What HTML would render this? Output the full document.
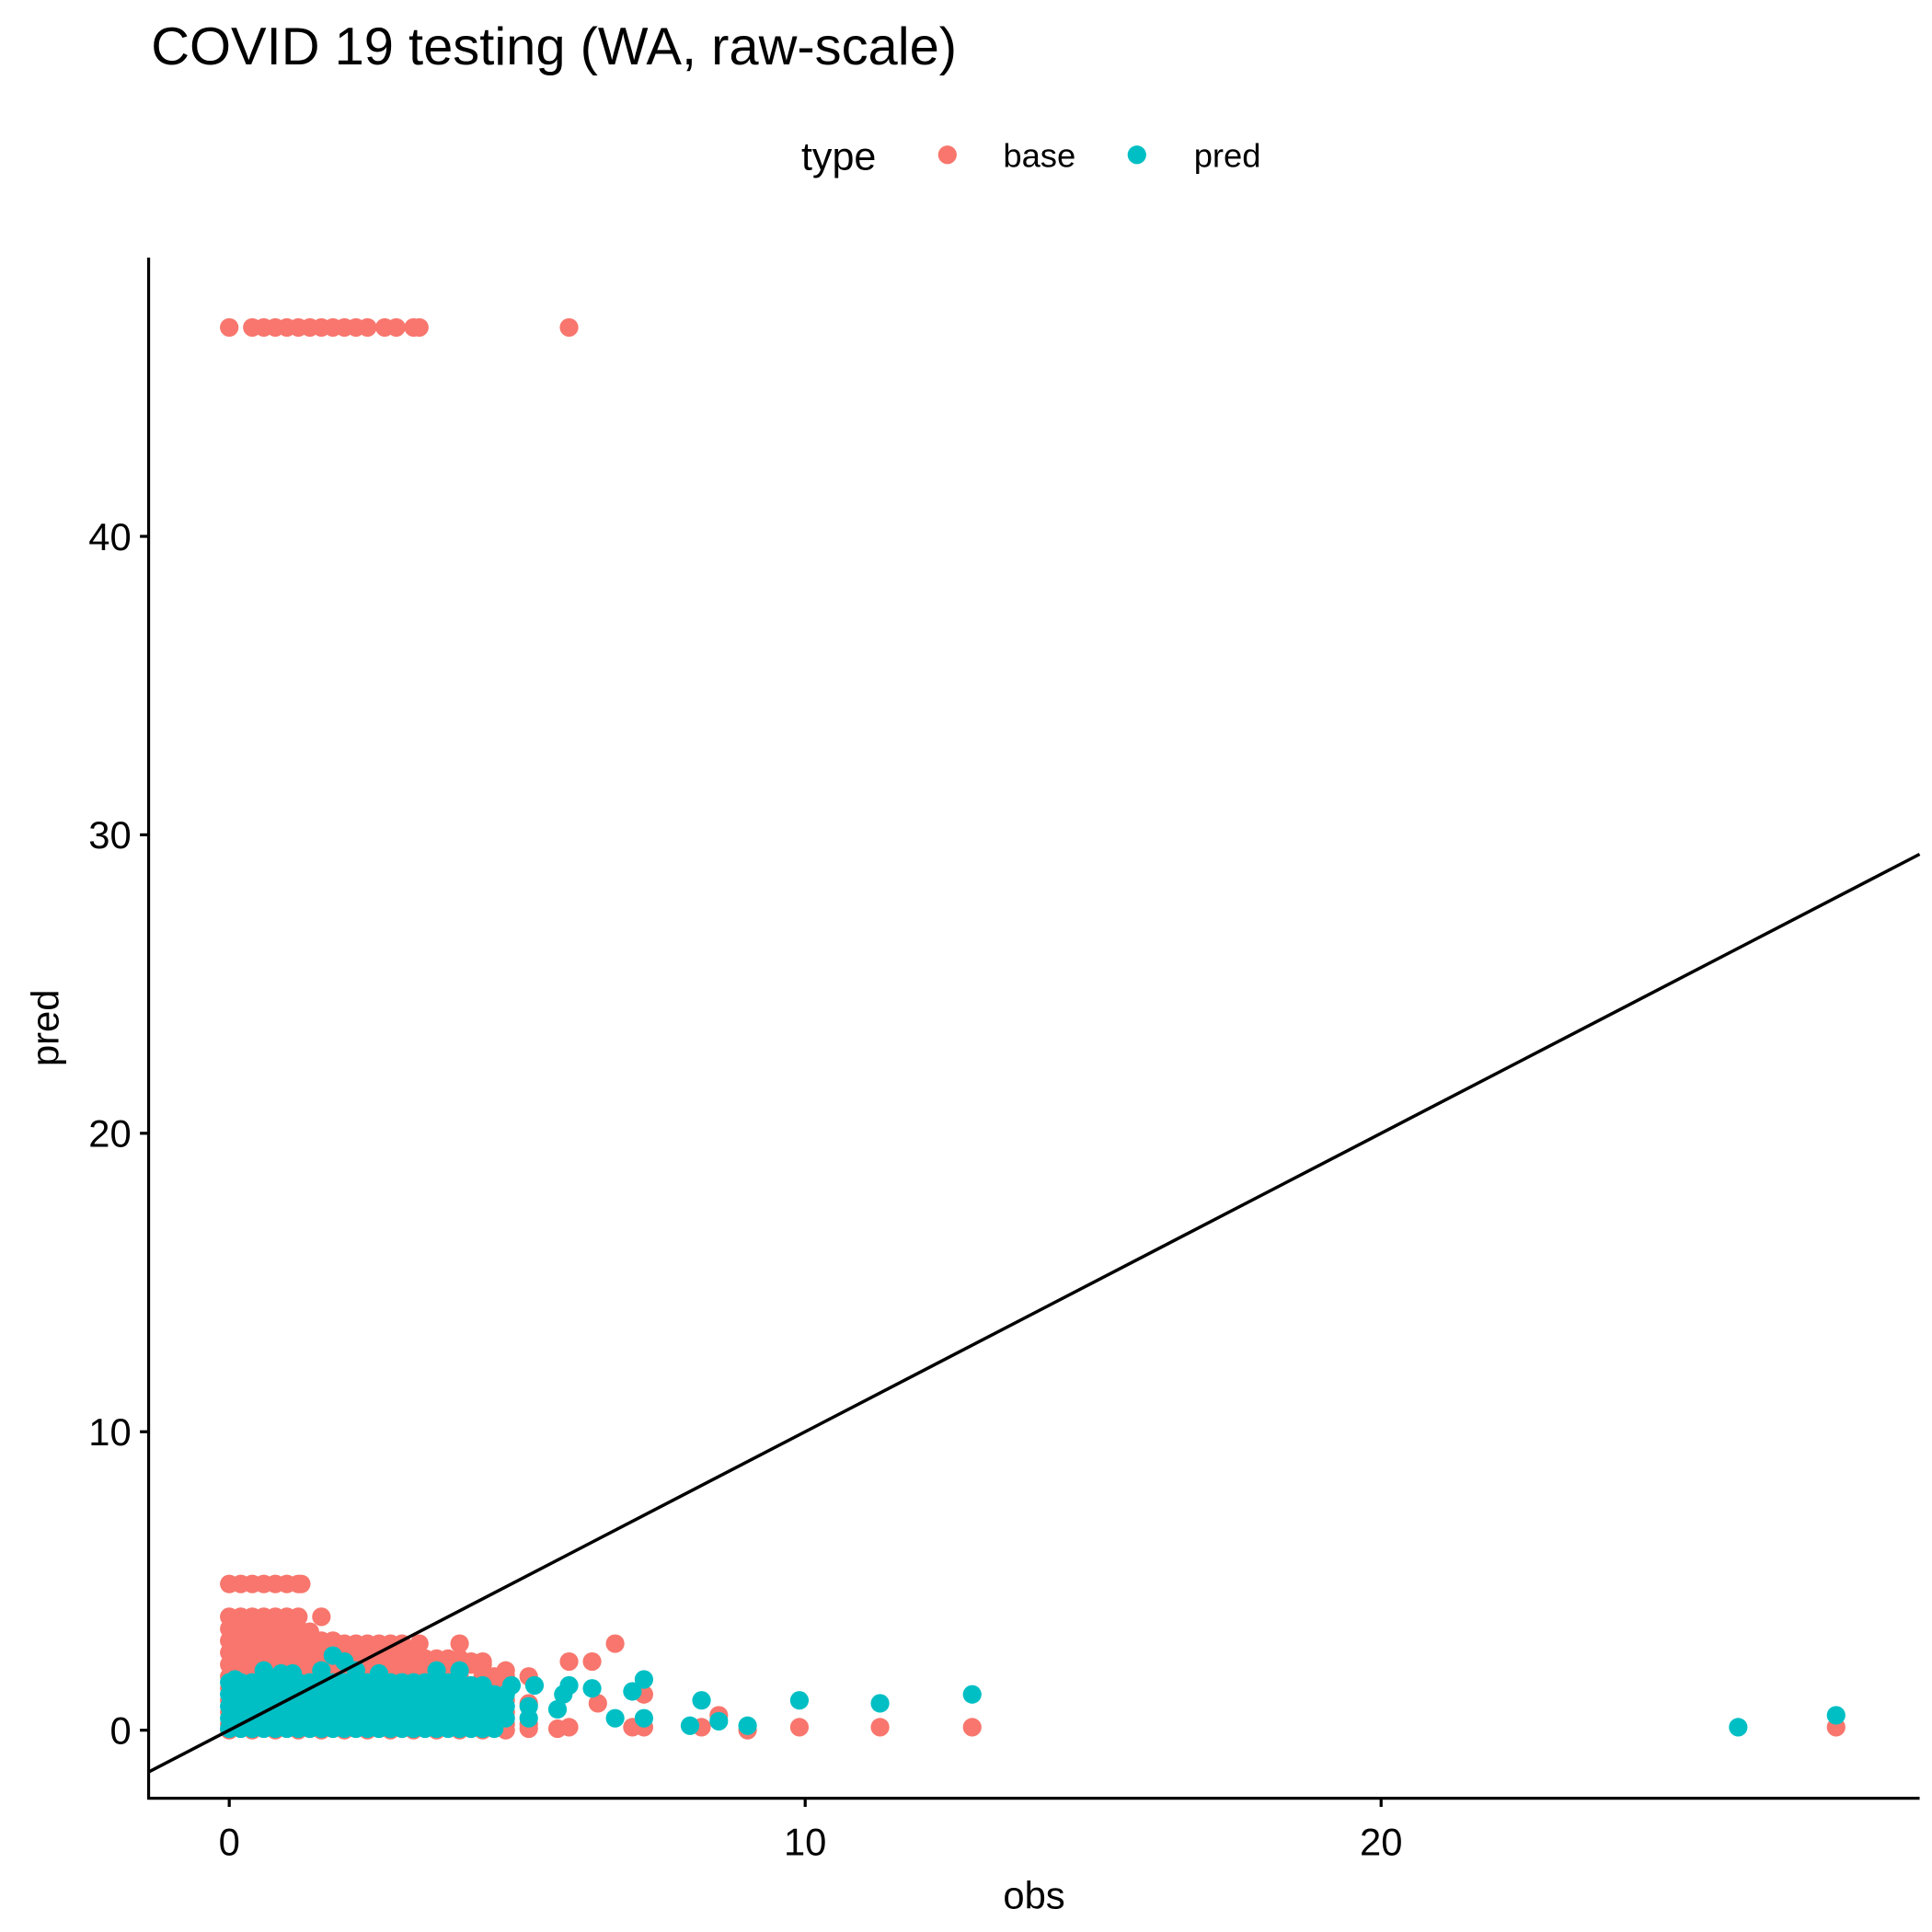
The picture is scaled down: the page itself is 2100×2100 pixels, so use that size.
<!DOCTYPE html>
<html><head><meta charset="utf-8"><style>
html,body{margin:0;padding:0;background:#fff;}
svg{display:block;font-family:"Liberation Sans",Arial,sans-serif;}
</style></head><body>
<svg id="chart" width="2100" height="2100" viewBox="0 0 1560 1560" xmlns="http://www.w3.org/2000/svg">
<text x="122" y="52" font-size="43" fill="#000">COVID 19 testing (WA, raw-scale)</text>
<g>
<text x="647" y="137" font-size="32" fill="#000">type</text>
<circle cx="765" cy="125" r="7.5" fill="#F8766D"/>
<text x="810" y="135" font-size="27" fill="#000">base</text>
<circle cx="918" cy="125" r="7.5" fill="#00BFC4"/>
<text x="964" y="135" font-size="27" fill="#000">pred</text>
</g>
<g id="points"></g>
<g id="axes"></g>
<text x="835" y="1541" font-size="31" text-anchor="middle" fill="#000">obs</text>
<text transform="translate(47,830) rotate(-90)" font-size="31" text-anchor="middle" fill="#000">pred</text>
</svg>
<script>
const xTicks = [0, 10, 20];
const yTicks = [0, 10, 20, 30, 40];
const basePoints = [
[0,47],[0.4,47],[0.6,47],[0.8,47],[1.0,47],[1.2,47],[1.4,47],[1.6,47],[1.8,47],[2.0,47],[2.2,47],[2.4,47],[2.7,47],[2.9,47],[3.2,47],[3.3,47],[5.9,47],
[0,4.9],[0.2,4.9],[0.4,4.9],[0.6,4.9],[0.8,4.9],[1.0,4.9],[1.2,4.9],[1.25,4.9],
[0,3.8],[0.2,3.8],[0.4,3.8],[0.6,3.8],[0.8,3.8],[1.0,3.8],[1.2,3.8],[1.6,3.8],
[0,3.4],[0.2,3.4],[0.4,3.4],[0.6,3.4],[0.8,3.4],[1.0,3.4],[1.2,3.4],[1.4,3.3],
[0,3.0],[0.2,3.0],[0.4,3.0],[0.6,3.0],[0.8,3.0],[1.0,3.0],[1.2,3.0],[1.4,3.0],[1.6,3.0],[1.8,3.0],[2.0,2.9],[2.2,2.9],[2.4,2.9],[2.6,2.9],[2.8,2.9],[3.0,2.9],[3.3,2.9],[4.0,2.9],
[0,2.6],[0.2,2.6],[0.4,2.6],[0.6,2.6],[0.8,2.6],[1.0,2.6],[1.2,2.6],[1.4,2.6],[1.6,2.6],[1.8,2.6],[2.0,2.6],[2.2,2.6],[2.4,2.6],[2.6,2.6],[2.8,2.6],[3.0,2.6],[3.2,2.6],[3.4,2.4],[3.6,2.4],[3.8,2.4],[4.0,2.4],[4.2,2.3],[4.4,2.3],
[0,2.2],[0.2,2.2],[0.4,2.2],[0.6,2.2],[0.8,2.2],[1.0,2.2],[1.2,2.2],[1.4,2.2],[1.6,2.2],[1.8,2.2],[2.0,2.2],[2.2,2.2],[2.4,2.2],[2.6,2.2],[2.8,2.2],[3.0,2.2],[3.2,2.2],[3.4,2.2],[3.6,2.2],[3.8,2.2],[4.0,2.2],[4.2,2.2],[4.4,2.2],[4.8,2.0],
[0,1.8],[0.4,1.8],[0.8,1.8],[1.2,1.8],[1.6,1.8],[2.0,1.8],[2.4,1.8],[2.8,1.8],[3.2,1.8],[3.6,1.8],[4.0,1.8],[4.4,1.8],[4.6,1.8],[4.8,1.8],[5.2,1.8],
[0,1.4],[0.4,1.4],[0.8,1.4],[1.2,1.4],[1.6,1.4],[2.0,1.4],[2.4,1.4],[2.8,1.4],[3.2,1.4],[3.6,1.4],[4.0,1.4],[4.4,1.4],[4.6,1.4],[4.8,1.4],
[0,1.0],[0.4,1.0],[0.8,1.0],[1.2,1.0],[1.6,1.0],[2.0,1.0],[2.4,1.0],[2.8,1.0],[3.2,1.0],[3.6,1.0],[4.0,1.0],[4.4,1.0],[4.6,1.0],[4.8,1.0],[5.2,0.9],
[0,0.6],[0.4,0.6],[0.8,0.6],[1.2,0.6],[1.6,0.6],[2.0,0.6],[2.4,0.6],[2.8,0.6],[3.2,0.6],[3.6,0.6],[4.0,0.6],[4.4,0.6],[4.6,0.6],[4.8,0.6],
[0,0.2],[0.4,0.2],[0.8,0.2],[1.2,0.2],[1.6,0.2],[2.0,0.2],[2.4,0.2],[2.8,0.2],[3.2,0.2],[3.6,0.2],[4.0,0.2],[4.4,0.2],[4.6,0.2],[4.8,0.2],[5.2,0.2],
[0,0],[0.4,0],[0.8,0],[1.2,0],[1.6,0],[2.0,0],[2.4,0],[2.8,0],[3.2,0],[3.6,0],[4.0,0],[4.4,0],[4.8,0],[5.2,0.05],
[5.9,2.3],[6.3,2.3],[6.7,2.9],[6.4,0.9],[7.2,1.2],[5.7,0.05],[5.9,0.1],[7.0,0.1],[7.2,0.1],[8.2,0.1],[8.5,0.5],[9.0,0],[9.9,0.1],[11.3,0.1],[12.9,0.1],[27.9,0.1]
];
const predPoints = [
[1.8,2.5],[2.0,2.3],[0.6,2.0],[0.9,1.9],[1.1,1.9],[1.6,2.0],[2.2,2.0],[2.6,1.9],[3.6,2.0],[4.0,2.0],[0.1,1.7],
[0,1.6],[0.2,1.6],[0.4,1.6],[0.6,1.6],[0.8,1.6],[1.0,1.6],[1.2,1.6],[1.4,1.6],[1.6,1.6],[1.8,1.6],[2.0,1.6],[2.2,1.6],[2.4,1.6],[2.6,1.6],[2.8,1.6],[3.0,1.6],[3.2,1.6],[3.4,1.6],[3.6,1.6],[3.8,1.6],[4.0,1.6],[4.2,1.5],[4.4,1.5],
[0,1.2],[0.2,1.2],[0.4,1.2],[0.6,1.2],[0.8,1.2],[1.0,1.2],[1.2,1.2],[1.4,1.2],[1.6,1.2],[1.8,1.2],[2.0,1.2],[2.2,1.2],[2.4,1.2],[2.6,1.2],[2.8,1.2],[3.0,1.2],[3.2,1.2],[3.4,1.2],[3.6,1.2],[3.8,1.2],[4.0,1.2],[4.2,1.2],[4.4,1.2],[4.6,1.2],[4.8,1.2],
[0,0.8],[0.2,0.8],[0.4,0.8],[0.6,0.8],[0.8,0.8],[1.0,0.8],[1.2,0.8],[1.4,0.8],[1.6,0.8],[1.8,0.8],[2.0,0.8],[2.2,0.8],[2.4,0.8],[2.6,0.8],[2.8,0.8],[3.0,0.8],[3.2,0.8],[3.4,0.8],[3.6,0.8],[3.8,0.8],[4.0,0.8],[4.2,0.8],[4.4,0.8],[4.6,0.8],[4.8,0.8],[5.2,0.8],
[0,0.4],[0.2,0.4],[0.4,0.4],[0.6,0.4],[0.8,0.4],[1.0,0.4],[1.2,0.4],[1.4,0.4],[1.6,0.4],[1.8,0.4],[2.0,0.4],[2.2,0.4],[2.4,0.4],[2.6,0.4],[2.8,0.4],[3.0,0.4],[3.2,0.4],[3.4,0.4],[3.6,0.4],[3.8,0.4],[4.0,0.4],[4.2,0.4],[4.4,0.4],[4.6,0.4],[4.8,0.4],[5.2,0.4],
[0,0.05],[0.2,0.05],[0.4,0.05],[0.6,0.05],[0.8,0.05],[1.0,0.05],[1.2,0.05],[1.4,0.05],[1.6,0.05],[1.8,0.05],[2.0,0.05],[2.2,0.05],[2.4,0.05],[2.6,0.05],[2.8,0.05],[3.0,0.05],[3.2,0.05],[3.4,0.05],[3.6,0.05],[3.8,0.05],[4.0,0.05],[4.2,0.05],[4.4,0.05],[4.6,0.05],
[4.9,1.5],[5.3,1.5],[5.8,1.2],[5.9,1.5],[6.3,1.4],[5.7,0.7],[6.7,0.4],[7.0,1.3],[7.2,1.7],[7.2,0.4],[8.0,0.15],[8.2,1.0],[8.5,0.3],[9.0,0.15],[9.9,1.0],[11.3,0.9],[12.9,1.2],[26.2,0.1],[27.9,0.5]
];
const refLine = [[-1.4,-1.4],[29.35,29.35]];

const L=120,R=1550,T=208,B=1452;
const X0=-1.4,X1=29.35,Y0=-2.28,Y1=49.34;
function sx(v){return L+(v-X0)/(X1-X0)*(R-L);}
function sy(v){return B-(v-Y0)/(Y1-Y0)*(B-T);}
const NS="http://www.w3.org/2000/svg";
const pg=document.getElementById('points');
function drawSeries(pts,color,name){
  pts.forEach(p=>{
    const c=document.createElementNS(NS,'circle');
    c.setAttribute('cx',sx(p[0]));c.setAttribute('cy',sy(p[1]));
    c.setAttribute('r',7.5);c.setAttribute('fill',color);
    
    
    pg.appendChild(c);
  });
}
drawSeries(basePoints,'#F8766D','base-point');
drawSeries(predPoints,'#00BFC4','pred-point');
const ln=document.createElementNS(NS,'line');
ln.setAttribute('x1',sx(refLine[0][0]));ln.setAttribute('y1',sy(refLine[0][1]));
ln.setAttribute('x2',sx(refLine[1][0]));ln.setAttribute('y2',sy(refLine[1][1]));
ln.setAttribute('stroke','#000');ln.setAttribute('stroke-width',2.6);


pg.appendChild(ln);

const ax=document.getElementById('axes');
function mk(tag,attrs){const e=document.createElementNS(NS,tag);for(const k in attrs)e.setAttribute(k,attrs[k]);ax.appendChild(e);return e;}
const ya=mk('line',{x1:L,y1:T,x2:L,y2:B+1,stroke:'#000','stroke-width':2.4});


const xa=mk('line',{x1:L-1,y1:B,x2:R,y2:B,stroke:'#000','stroke-width':2.4});


xTicks.forEach(v=>{
  const t=mk('line',{x1:sx(v),y1:B,x2:sx(v),y2:B+7,stroke:'#000','stroke-width':2.4});
  
  
  const l=mk('text',{x:sx(v),y:B+46,'font-size':31,'text-anchor':'middle',fill:'#000'});
  l.textContent=v;
  
  
});
yTicks.forEach(v=>{
  const t=mk('line',{x1:L-7,y1:sy(v),x2:L,y2:sy(v),stroke:'#000','stroke-width':2.4});
  
  
  const l=mk('text',{x:L-14,y:sy(v)+11,'font-size':31,'text-anchor':'end',fill:'#000'});
  l.textContent=v;
  
  
});
</script>
</body></html>
